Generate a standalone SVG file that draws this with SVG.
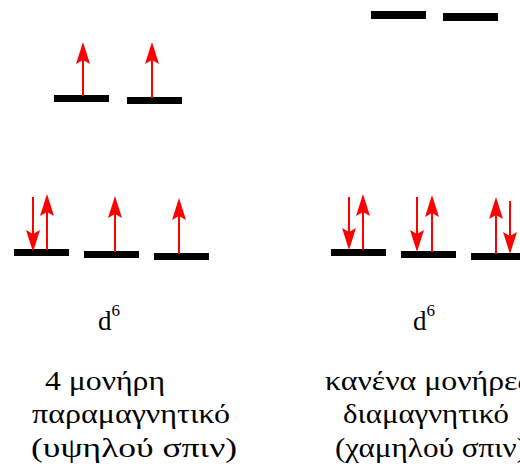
<svg xmlns="http://www.w3.org/2000/svg" width="520" height="466" viewBox="0 0 520 466">
<style>
.bar{fill:#000}
.arr{stroke:#ff0000;stroke-width:2;fill:none;marker-end:url(#head)}
</style>
<defs>
<marker id="head" viewBox="0 0 22 14" refX="16" refY="7" markerWidth="22" markerHeight="14" markerUnits="userSpaceOnUse" orient="auto">
<path d="M0,0 L22,7 L0,14 L4,7 z" fill="#ff0000"/>
</marker>
</defs>
<rect width="520" height="466" fill="#fff"/>
<g id="high-spin">
<g id="hs-eg1"><rect class="bar" x="54" y="95" width="55" height="7"/></g>
<g id="hs-eg2"><rect class="bar" x="127" y="97" width="55" height="7"/></g>
<g id="hs-t1"><rect class="bar" x="14" y="249" width="55" height="7"/></g>
<g id="hs-t2"><rect class="bar" x="84" y="251" width="55" height="7"/></g>
<g id="hs-t3"><rect class="bar" x="154" y="253" width="55" height="7"/></g>
</g>
<g id="low-spin">
<g id="ls-eg1"><rect class="bar" x="371" y="11" width="55" height="8"/></g>
<g id="ls-eg2"><rect class="bar" x="443" y="13" width="55" height="8"/></g>
<g id="ls-t1"><rect class="bar" x="331" y="249" width="55" height="7"/></g>
<g id="ls-t2"><rect class="bar" x="401" y="251" width="55" height="7"/></g>
<g id="ls-t3"><rect class="bar" x="471" y="253" width="55" height="7"/></g>
</g>
<g id="connectors">
<line class="arr" x1="83" y1="96" x2="83" y2="48"/>
<line class="arr" x1="152" y1="98" x2="152" y2="48"/>
<line class="arr" x1="33" y1="197" x2="33" y2="246"/>
<line class="arr" x1="47" y1="250" x2="47" y2="200"/>
<line class="arr" x1="115" y1="252" x2="115" y2="202"/>
<line class="arr" x1="179" y1="254" x2="179" y2="204"/>
<line class="arr" x1="349" y1="197" x2="349" y2="244"/>
<line class="arr" x1="363" y1="250" x2="363" y2="200"/>
<line class="arr" x1="417" y1="197" x2="417" y2="246"/>
<line class="arr" x1="432" y1="252" x2="432" y2="201"/>
<line class="arr" x1="496" y1="254" x2="496" y2="203"/>
<line class="arr" x1="510" y1="201" x2="510" y2="248"/>
</g>
<g id="labels" font-family="Liberation Serif, DejaVu Serif, serif" font-size="27" fill="#000">
<text x="98" y="330">d<tspan font-size="17" dy="-14">6</tspan></text>
<text x="45" y="390" textLength="120" lengthAdjust="spacingAndGlyphs">4 μονήρη</text>
<text x="32" y="423" textLength="198" lengthAdjust="spacingAndGlyphs">παραμαγνητικό</text>
<text x="31" y="457" textLength="206" lengthAdjust="spacingAndGlyphs">(υψηλού σπιν)</text>
<text x="413" y="330">d<tspan font-size="17" dy="-14">6</tspan></text>
<text x="325" y="390" textLength="205" lengthAdjust="spacingAndGlyphs">κανένα μονήρες</text>
<text x="343" y="423" textLength="166" lengthAdjust="spacingAndGlyphs">διαμαγνητικό</text>
<text x="335" y="457" textLength="192" lengthAdjust="spacingAndGlyphs">(χαμηλού σπιν)</text>
</g>
</svg>
